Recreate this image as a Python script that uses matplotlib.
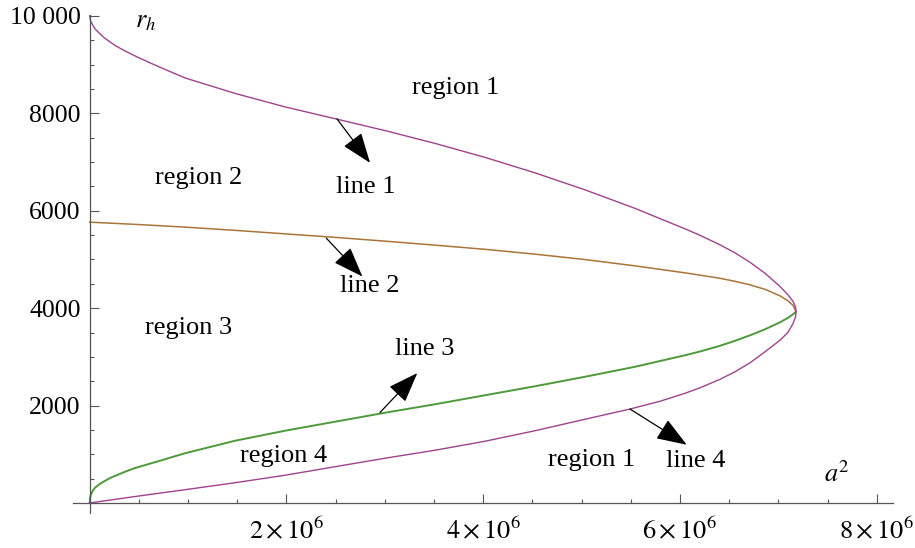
# ==========================================================
# HORIZON REGIONS  r_h  vs  a^2
# PLOT.PY
# ==========================================================

import numpy as np
import matplotlib
matplotlib.use("Agg")
import matplotlib.pyplot as plt
from matplotlib.ticker import FixedLocator, MultipleLocator

# ==========================================================
# FONT
# ==========================================================

plt.rcParams["font.family"] = ["Liberation Serif", "DejaVu Serif"]
plt.rcParams["mathtext.fontset"] = "stix"

# ==========================================================
# DATA  (a^2 in units of 10^6)
# ==========================================================

# purple curve: top branch -> nose -> bottom branch
purple_a2 = [0.0, 0.014, 0.055, 0.106, 0.157, 0.258, 0.360, 0.461, 0.614,
             0.766, 0.970, 1.478, 1.986, 2.494, 3.002, 3.510, 4.018, 4.527,
             5.035, 5.543, 6.051, 6.204, 6.407, 6.559, 6.712, 6.864, 7.016,
             7.097, 7.148, 7.174, 7.179,
             7.174, 7.148, 7.097, 7.016, 6.864, 6.712, 6.559, 6.407, 6.204,
             6.051, 5.797, 5.492, 5.035, 4.527, 4.018, 3.510, 3.002, 2.494,
             1.986, 1.478, 0.970, 0.461, 0.0]
purple_rh = [10000, 9876, 9733, 9630, 9538, 9394, 9281, 9179, 9036,
             8902, 8727, 8409, 8132, 7890, 7646, 7383, 7096, 6778,
             6429, 6049, 5629, 5495, 5300, 5136, 4941, 4716, 4445,
             4275, 4141, 4028, 3926,
             3823, 3680, 3505, 3341, 3105, 2879, 2694, 2540, 2366,
             2253, 2089, 1929, 1720, 1484, 1268, 1083, 919, 745,
             570, 416, 273, 133, 0]

# brown curve (line 2)
brown_a2 = [0.0, 0.461, 0.970, 1.478, 1.986, 2.494, 3.002, 3.510, 4.018,
            4.527, 5.035, 5.543, 6.051, 6.204, 6.407, 6.559, 6.712, 6.864,
            7.016, 7.097, 7.148, 7.179]
brown_rh = [5766, 5721, 5664, 5598, 5526, 5454, 5376, 5294, 5208,
            5109, 4998, 4869, 4725, 4678, 4613, 4551, 4479, 4387,
            4254, 4151, 4059, 3926]

# green curve (line 3)
green_a2 = [0.0, 0.004, 0.014, 0.035, 0.055, 0.106, 0.207, 0.360, 0.461,
            0.715, 0.970, 1.478, 1.986, 2.494, 3.002, 3.510, 4.018, 4.527,
            5.035, 5.543, 6.051, 6.204, 6.407, 6.559, 6.712, 6.864, 7.016,
            7.097, 7.148, 7.179]
green_rh = [0, 109, 181, 263, 314, 396, 513, 642, 718,
            868, 1022, 1278, 1484, 1669, 1853, 2027, 2212, 2397,
            2592, 2797, 3033, 3111, 3228, 3330, 3443, 3566, 3710,
            3802, 3874, 3926]

# region / line labels : (text, a2, rh)
label_text = ["region 1", "region 2", "line 1", "line 2", "region 3",
              "line 3", "region 4", "region 1", "line 4"]
label_a2 = [3.722, 1.112, 2.809, 2.850, 1.008, 3.404, 1.969, 5.103, 6.163]
label_rh = [8516, 6665, 6497, 4445, 3591, 3166, 975, 889, 872]

# arrows : tail on the curve -> tip
arrow_tail_a2 = [2.514, 2.405, 2.951, 5.492]
arrow_tail_rh = [7886, 5438, 1859, 1929]
arrow_tip_a2 = [2.850, 2.772, 3.330, 6.068]
arrow_tip_rh = [6983, 4650, 2668, 1196]

x_major = [2, 4, 6, 8]
x_labels = [r"$2\times10^{6}$", r"$4\times10^{6}$",
            r"$6\times10^{6}$", r"$8\times10^{6}$"]
y_major = [2000, 4000, 6000, 8000, 10000]
y_labels = ["2000", "4000", "6000", "8000", "10 000"]

SCALE = 1e6

# ==========================================================
# FIGURE
# ==========================================================

fig = plt.figure(figsize=(9.15, 5.48), dpi=100)

ax = fig.add_axes([0.0798, 0.0639, 0.8962, 0.9088])

ax.set_xlim(-0.169 * SCALE, 8.165 * SCALE)
ax.set_ylim(-205, 10020)

# ==========================================================
# CURVES
# ==========================================================

ax.plot(np.array(brown_a2) * SCALE, brown_rh,
        color="#aa7538", linewidth=1.1, solid_joinstyle="round")

ax.plot(np.array(green_a2) * SCALE, green_rh,
        color="#4c9a3a", linewidth=1.4, solid_joinstyle="round")

ax.plot(np.array(purple_a2) * SCALE, purple_rh,
        color="#a0428e", linewidth=1.0, solid_joinstyle="round")

# ==========================================================
# LABELS + ARROWS
# ==========================================================

for txt, xa, ya in zip(label_text, label_a2, label_rh):
    ax.text(xa * SCALE, ya, txt, fontsize=19,
            ha="center", va="center", color="black")

for xt, yt, xh, yh in zip(arrow_tail_a2, arrow_tail_rh,
                          arrow_tip_a2, arrow_tip_rh):
    ax.annotate("",
                xy=(xh * SCALE, yh),
                xytext=(xt * SCALE, yt),
                arrowprops=dict(arrowstyle="-|>,head_length=0.95,head_width=0.35",
                                mutation_scale=20, color="black",
                                lw=0.9, shrinkA=0, shrinkB=0))

ax.text(0.573 * SCALE, 9876, r"$r_h$", fontsize=19,
        ha="center", va="center")
ax.text(7.596 * SCALE, 600, r"$a^2$", fontsize=19,
        ha="center", va="center")

# ==========================================================
# AXES (crossing at origin)
# ==========================================================

axis_color = "#555555"

for side in ["top", "right"]:
    ax.spines[side].set_visible(False)

ax.spines["left"].set_position(("data", 0))
ax.spines["bottom"].set_position(("data", 0))
ax.spines["left"].set_color(axis_color)
ax.spines["bottom"].set_color(axis_color)
ax.spines["left"].set_linewidth(0.9)
ax.spines["bottom"].set_linewidth(0.9)

ax.xaxis.set_major_locator(FixedLocator([v * SCALE for v in x_major]))
ax.xaxis.set_minor_locator(MultipleLocator(0.5 * SCALE))
ax.set_xticklabels(x_labels)

ax.yaxis.set_major_locator(FixedLocator(y_major))
ax.yaxis.set_minor_locator(MultipleLocator(500))
ax.set_yticklabels(y_labels)

ax.tick_params(axis="both", which="major", direction="in",
               length=6.3, width=0.8, color=axis_color,
               labelcolor="black")
ax.tick_params(axis="both", which="minor", direction="in",
               length=3.1, width=0.8, color=axis_color)
ax.tick_params(axis="x", which="major", pad=10, labelsize=19)
ax.tick_params(axis="y", which="major", pad=6.5, labelsize=18.5)

# ==========================================================
# SAVE
# ==========================================================

fig.savefig("out.png", dpi=100)

print("Saved out.png")
